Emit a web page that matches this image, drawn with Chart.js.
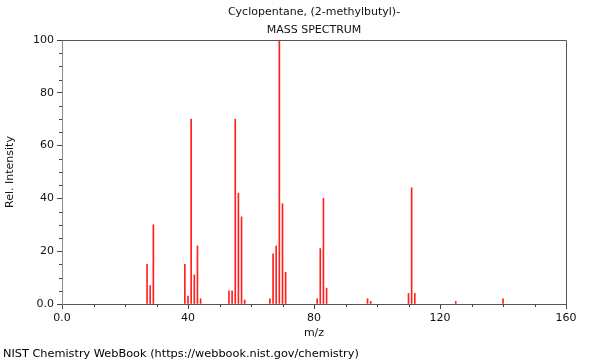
<!DOCTYPE html>
<html>
<head>
<meta charset="utf-8">
<script src="https://cdn.jsdelivr.net/npm/chart.js@4/dist/chart.umd.min.js"></script>
<style>
  html, body { margin: 0; padding: 0; background: #fff; }
  #wrap { position: relative; width: 600px; height: 360px; }
  #footer { position: absolute; left: 3px; top: 347px; font: 11.3px "DejaVu Sans", sans-serif; line-height: 13px; color: #000; white-space: nowrap; }
</style>
</head>
<body>
<div id="wrap">
  <canvas id="c" width="600" height="360"></canvas>
  <div id="footer">NIST Chemistry WebBook (https://webbook.nist.gov/chemistry)</div>
</div>
<script>
const titleLines = ["Cyclopentane, (2-methylbutyl)-", "MASS SPECTRUM"];
const mz = [27, 28, 29, 39, 40, 41, 42, 43, 44, 53, 54, 55, 56, 57, 58, 66, 67, 68, 69, 70, 71, 81, 82, 83, 84, 97, 98, 110, 111, 112, 125, 140];
const intensity = [15, 7, 30, 15, 3, 70, 11, 22, 2, 5, 5, 70, 42, 33, 1.5, 2, 19, 22, 100, 38, 12, 2, 21, 40, 6, 2, 1, 4, 44, 4, 1, 2];
const xMajorTicks = [0, 40, 80, 120, 160];
const yMajorTicks = [0, 20, 40, 60, 80, 100];
const xMinorStep = 10;
const yMinorStep = 5;

const FONT = '"DejaVu Sans", sans-serif';

const frameAndMinor = {
  id: 'frameAndMinor',
  afterDraw(chart) {
    const ctx = chart.ctx;
    const a = chart.chartArea;
    const xs = chart.scales.x, ys = chart.scales.y;
    ctx.save();
    ctx.strokeStyle = '#555';
    ctx.lineWidth = 1;
    ctx.beginPath();
    ctx.moveTo(a.left, a.top + 0.5);
    ctx.lineTo(a.right + 0.5, a.top + 0.5);
    ctx.lineTo(a.right + 0.5, a.bottom);
    ctx.stroke();
    ctx.strokeStyle = '#444';
    ctx.beginPath();
    for (let v = xs.min; v <= xs.max; v += xMinorStep) {
      if (xMajorTicks.includes(v)) continue;
      const px = Math.round(xs.getPixelForValue(v)) + 0.5;
      ctx.moveTo(px, a.bottom);
      ctx.lineTo(px, a.bottom + 3);
    }
    for (let v = ys.min; v <= ys.max; v += yMinorStep) {
      if (yMajorTicks.includes(v)) continue;
      const py = Math.round(ys.getPixelForValue(v)) + 0.5;
      ctx.moveTo(a.left, py);
      ctx.lineTo(a.left - 3, py);
    }
    ctx.stroke();
    ctx.restore();
  }
};

new Chart(document.getElementById('c'), {
  type: 'bar',
  data: {
    datasets: [{
      data: mz.map((m, i) => ({ x: m, y: intensity[i] })),
      backgroundColor: '#ff2020',
      borderWidth: 0,
      barThickness: 1,
      grouped: false
    }]
  },
  options: {
    responsive: false,
    animation: false,
    events: [],
    layout: { padding: { left: 0, right: 34, top: 0, bottom: 0 } },
    plugins: {
      legend: { display: false },
      tooltip: { enabled: false },
      title: {
        display: true,
        text: titleLines,
        fullSize: false,
        color: '#111',
        font: { family: FONT, size: 11, weight: 'normal', lineHeight: 18 / 11 },
        padding: { top: 3, bottom: 1 }
      }
    },
    scales: {
      x: {
        type: 'linear',
        min: 0,
        max: 160,
        offset: false,
        afterFit(s) { s.height = 56; },
        afterBuildTicks(s) { s.ticks = xMajorTicks.map(v => ({ value: v })); },
        ticks: {
          color: '#111',
          font: { family: FONT, size: 11 },
          padding: 3,
          maxRotation: 0,
          autoSkip: false,
          callback: v => v === 0 ? '0.0' : String(v)
        },
        grid: { drawOnChartArea: false, offset: false, tickLength: 5, color: '#444' },
        border: { color: '#555' },
        title: {
          display: true,
          text: 'm/z',
          color: '#111',
          font: { family: FONT, size: 11 },
          padding: { top: 0, bottom: 20 }
        }
      },
      y: {
        min: 0,
        max: 100,
        afterFit(s) { s.width = 62; },
        afterBuildTicks(s) { s.ticks = yMajorTicks.map(v => ({ value: v })); },
        ticks: {
          color: '#111',
          font: { family: FONT, size: 11 },
          padding: 3,
          autoSkip: false,
          callback: v => v === 0 ? '0.0' : String(v)
        },
        grid: { drawOnChartArea: false, tickLength: 5, color: '#444' },
        border: { color: '#888' },
        title: {
          display: true,
          text: 'Rel. Intensity',
          color: '#111',
          font: { family: FONT, size: 11 },
          padding: { top: 4, bottom: 0 }
        }
      }
    }
  },
  plugins: [frameAndMinor]
});
</script>
</body>
</html>
